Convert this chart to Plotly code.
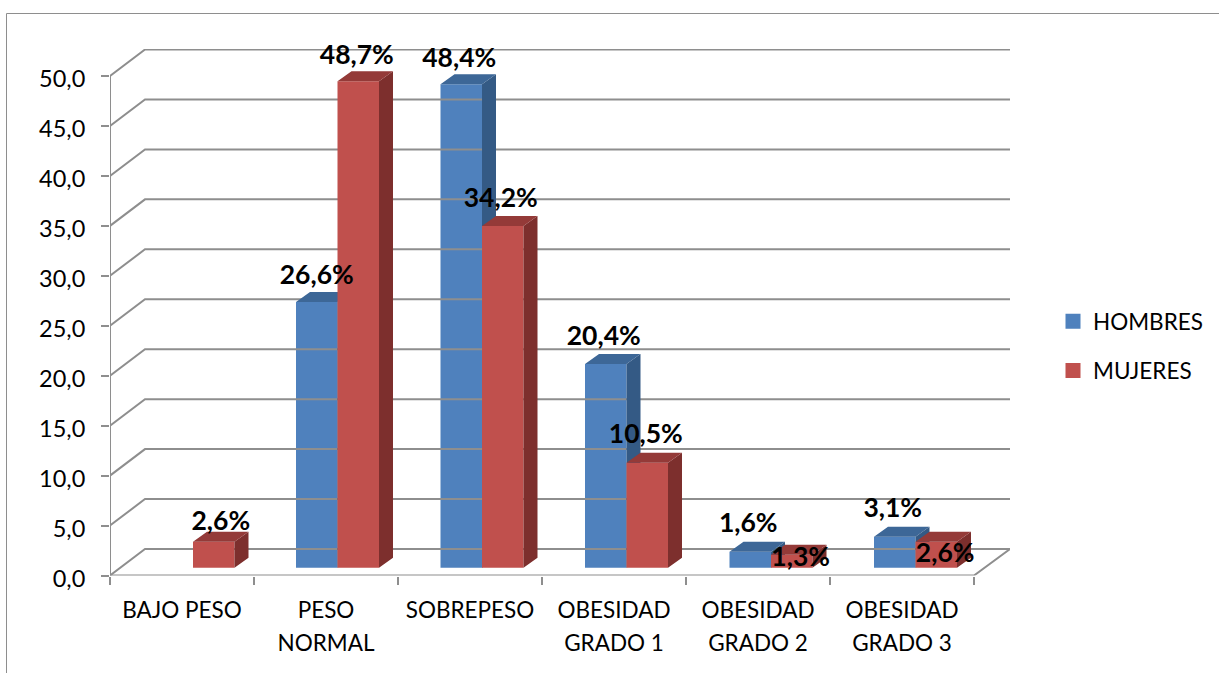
import plotly.graph_objects as go

# ---- data ----
categories_line1 = ["BAJO PESO", "PESO", "SOBREPESO", "OBESIDAD", "OBESIDAD", "OBESIDAD"]
categories_line2 = ["", "NORMAL", "", "GRADO 1", "GRADO 2", "GRADO 3"]
hombres = [None, 26.6, 48.4, 20.4, 1.6, 3.1]
mujeres = [2.6, 48.7, 34.2, 10.5, 1.3, 2.6]
y_ticks = [0, 5, 10, 15, 20, 25, 30, 35, 40, 45, 50]

# label nudges (category units, value units) relative to each bar's top centre
hombres_nudge = [(0, 0), (0, 2.5), (-0.014, 2.4), (-0.014, 2.6), (-0.014, 2.6), (-0.014, 2.6)]
mujeres_nudge = [(0.049, 1.8), (-0.01, 2.4), (-0.014, 2.6), (-0.01, 2.6), (0.062, -0.5), (0.062, -1.4)]

# ---- canvas and 3D projection ----
W, H = 1219, 673
LEFT, RIGHT, BOTTOM, TOP = 110, 1010, 575.5, 49
PX_X = 144.0
PX_Y = 9.99
X_MIN = -0.5
X_MAX = X_MIN + (RIGHT - LEFT) / PX_X
Y_MAX = (BOTTOM - TOP) / PX_Y
WALL_DX, WALL_DY = 35 / PX_X, 26.5 / PX_Y
BAR_W = 41.5 / PX_X
BAR_PITCH = 144.5 / PX_X
BAR_SHIFT = 11 / PX_X
BAR_BASE = 7.8 / PX_Y
DEPTH_X, DEPTH_Y = 14 / PX_X, 10 / PX_Y

GRID = "#8E8E8E"
TEXT = "#000000"
FONT = "Lato"
BLUE, BLUE_SIDE, BLUE_TOP = "#4F81BD", "#345A85", "#3D6797"
RED, RED_SIDE, RED_TOP = "#C0504D", "#7D2F2D", "#943A38"

centers = list(range(len(categories_line1)))
bar_pos = [c * BAR_PITCH + BAR_SHIFT for c in centers]
fig = go.Figure()

# walls, floor and gridlines, derived from the axis ticks
gx, gy = [], []
for v in y_ticks:
    gx += [X_MIN, X_MIN + WALL_DX, X_MAX, None]
    gy += [v, v + WALL_DY, v + WALL_DY, None]
gx += [X_MIN, X_MIN, None, X_MIN, centers[-1] + 0.5, X_MAX]
gy += [y_ticks[0], y_ticks[-1], None, y_ticks[0], y_ticks[0], WALL_DY]
fig.add_trace(go.Scatter(x=gx, y=gy, mode="lines", line=dict(color=GRID, width=2),
                         hoverinfo="skip", showlegend=False, cliponaxis=False,
                         xaxis="x", yaxis="y"))


def add_series(name, values, bar_offset, front, side, top, xaxis):
    fig.add_trace(go.Bar(x=bar_pos, y=values, base=BAR_BASE,
                         width=BAR_W, offset=bar_offset, name=name, showlegend=False,
                         marker=dict(color=front, line=dict(width=0)),
                         xaxis=xaxis, yaxis="y"))
    # legend entry only: same colour, outlined so the key square is the right size
    fig.add_trace(go.Bar(x=[None], y=[None], name=name, legendgroup=name,
                         marker=dict(color=front, line=dict(color=front, width=3)),
                         xaxis=xaxis, yaxis="y"))
    for part, colour in (("side", side), ("top", top)):
        px, py = [], []
        for p, v in zip(bar_pos, values):
            if v is None:
                continue
            xl = p + bar_offset
            xr = xl + BAR_W
            t = BAR_BASE + v
            if part == "side":
                px += [xr, xr, xr + DEPTH_X, xr + DEPTH_X, xr, None]
                py += [BAR_BASE, t, t + DEPTH_Y, BAR_BASE + DEPTH_Y, BAR_BASE, None]
            else:
                px += [xl, xr, xr + DEPTH_X, xl + DEPTH_X, xl, None]
                py += [t, t, t + DEPTH_Y, t + DEPTH_Y, t, None]
        fig.add_trace(go.Scatter(x=px, y=py, mode="lines", fill="toself", fillcolor=colour,
                                 line=dict(width=0), hoverinfo="skip", showlegend=False,
                                 cliponaxis=False, xaxis=xaxis, yaxis="y"))


add_series("HOMBRES", hombres, -BAR_W, BLUE, BLUE_SIDE, BLUE_TOP, "x")
add_series("MUJERES", mujeres, 0, RED, RED_SIDE, RED_TOP, "x2")


def add_labels(values, bar_offset, nudges):
    lx, ly, lt = [], [], []
    for p, v, (nx, ny) in zip(bar_pos, values, nudges):
        if v is None:
            continue
        lx.append(p + bar_offset + BAR_W / 2 + nx)
        ly.append(BAR_BASE + v + ny)
        lt.append(f"{v:.1f}%".replace(".", ","))
    fig.add_trace(go.Scatter(x=lx, y=ly, text=lt, mode="text", textposition="middle center",
                             textfont=dict(family=FONT, size=26.5, color=TEXT, weight="bold"),
                             hoverinfo="skip", showlegend=False, cliponaxis=False,
                             xaxis="x2", yaxis="y"))


add_labels(hombres, -BAR_W, hombres_nudge)
add_labels(mujeres, 0, mujeres_nudge)

cat_font = dict(family=FONT, size=22.5, color=TEXT)
val_font = dict(family=FONT, size=23.5, color=TEXT)
boundaries = [c - 0.5 for c in centers] + [centers[-1] + 0.5]
x_domain = [LEFT / W, RIGHT / W]
fig.update_layout(
    width=W, height=H, autosize=False,
    margin=dict(l=0, r=0, t=0, b=0),
    paper_bgcolor="white", plot_bgcolor="white",
    barmode="overlay",
    font=dict(family=FONT, size=22.5, color=TEXT),
    xaxis=dict(domain=x_domain, range=[X_MIN, X_MAX], showgrid=False, zeroline=False,
               showline=False, automargin=False, tickmode="array", tickvals=centers,
               ticktext=categories_line1, ticks="", tickfont=cat_font, ticklabelstandoff=19,
               minor=dict(tickmode="array", tickvals=boundaries, ticks="outside", ticklen=8,
                          tickwidth=2, tickcolor=GRID, showgrid=False)),
    xaxis2=dict(domain=x_domain, range=[X_MIN, X_MAX], overlaying="x", anchor="y", side="bottom",
                showgrid=False, zeroline=False, showline=False, automargin=False, tickmode="array",
                tickvals=centers, ticktext=categories_line2, ticks="", tickfont=cat_font,
                ticklabelstandoff=52),
    yaxis=dict(domain=[1 - BOTTOM / H, 1 - TOP / H], range=[0, Y_MAX], showgrid=False,
               zeroline=False, showline=False, automargin=False, tickmode="array", tickvals=y_ticks,
               ticktext=[f"{v:.1f}".replace(".", ",") for v in y_ticks],
               ticks="outside", ticklen=8, tickwidth=2, tickcolor=GRID, tickfont=val_font,
               ticklabelstandoff=11, ticklabelshift=3),
    legend=dict(x=1053 / W, y=1 - 300 / H, xanchor="left", yanchor="top",
                tracegroupgap=17, font=cat_font, itemclick=False, itemdoubleclick=False,
                bgcolor="rgba(0,0,0,0)"),
    showlegend=True,
    shapes=[
        dict(type="line", xref="paper", yref="paper", x0=6.5 / W, x1=1, y0=1 - 13.5 / H, y1=1 - 13.5 / H,
             line=dict(color=GRID, width=1)),
        dict(type="line", xref="paper", yref="paper", x0=6.5 / W, x1=6.5 / W, y0=0, y1=1 - 13.5 / H,
             line=dict(color=GRID, width=1)),
    ],
)

fig.write_html("out.html", config=dict(displayModeBar=False),
               post_script="document.body.style.margin='0';")
